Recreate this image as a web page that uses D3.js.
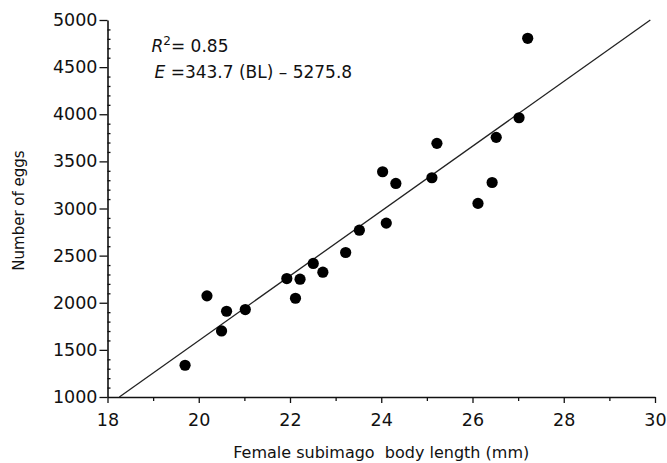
<!DOCTYPE html>
<html>
<head>
<meta charset="utf-8">
<script src="https://cdn.jsdelivr.net/npm/d3@7"></script>
<style>
  body { margin: 0; background: #fff; }
  svg text { font-family: "DejaVu Sans", sans-serif; fill: #111; }
</style>
</head>
<body>
<div id="chart"></div>
<script>
// body length (mm) and egg counts
const bodyLength = [19.7, 20.18, 20.5, 20.61, 21.02, 21.93, 22.12, 22.22, 22.51, 22.72, 23.22,
                    23.52, 24.03, 24.11, 24.32, 25.11, 25.22, 26.12, 26.43, 26.52, 27.02, 27.21];
const eggs = [1337, 2073, 1701, 1910, 1928, 2257, 2048, 2250, 2417, 2324, 2533,
              2770, 3390, 2845, 3266, 3326, 3691, 3054, 3276, 3755, 3963, 4806];
const xTicks = [18, 20, 22, 24, 26, 28, 30];
const yTicks = [1000, 1500, 2000, 2500, 3000, 3500, 4000, 4500, 5000];
const slope = 343.7, intercept = -5275.8;

// set the dimensions and margins of the graph
const margin = { top: 20, right: 12, bottom: 66, left: 107.5 },
    width = 667 - margin.left - margin.right,
    height = 463 - margin.top - margin.bottom;

const x = d3.scaleLinear().domain([18, 30]).range([0, 547.5]);
const y = d3.scaleLinear().domain([1000, 5000]).range([height, 0]);

const svg = d3.select("#chart").append("svg")
    .attr("width", 667)
    .attr("height", 463)
    .append("g")
    .attr("transform", "translate(" + margin.left + "," + margin.top + ")");

// x axis: major ticks + minor ticks at odd values
svg.append("g")
    .attr("transform", "translate(0," + height + ")")
    .call(d3.axisBottom(x).tickValues(xTicks).tickSize(6).tickSizeOuter(0).tickPadding(11));
svg.append("g")
    .attr("transform", "translate(0," + height + ")")
    .call(d3.axisBottom(x).tickValues(d3.range(19, 30, 2)).tickSize(4).tickFormat(""))
    .select(".domain").remove();

// y axis: major ticks left, minor every 100
svg.append("g")
    .call(d3.axisLeft(y).tickValues(yTicks).tickFormat(d3.format("d")).tickSize(8).tickSizeOuter(0).tickPadding(2));
svg.append("g")
    .call(d3.axisRight(y).tickValues(d3.range(1100, 5000, 100).filter(v => v % 500 != 0)).tickSize(3).tickFormat(""))
    .select(".domain").remove();

svg.selectAll(".domain").attr("stroke", "#111").attr("stroke-width", 1.6);
svg.selectAll(".tick line").attr("stroke", "#111").attr("stroke-width", 1.3);
svg.selectAll(".tick text").style("font-size", "17.5px").attr("fill", "#111");

// regression line from E=1000 to E=5000
const lineEnds = [1000, 5000].map(e => ({ bl: (e - intercept) / slope, e: e }));
svg.append("path")
    .datum(lineEnds)
    .attr("fill", "none")
    .attr("stroke", "#222")
    .attr("stroke-width", 1.3)
    .attr("d", d3.line().x(d => x(d.bl)).y(d => y(d.e)));

// points
svg.selectAll("circle.pt")
    .data(bodyLength)
    .enter().append("circle")
    .attr("class", "pt")
    .attr("cx", d => x(d))
    .attr("cy", (d, i) => y(eggs[i]))
    .attr("r", 5.6)
    .attr("fill", "#000");

// annotation
const ann = svg.append("g").style("font-size", "17px");
const t1 = ann.append("text").attr("x", 44).attr("y", 32);
t1.append("tspan").style("font-style", "italic").text("R");
t1.append("tspan").attr("dy", -7).style("font-size", "12px").text("2");
t1.append("tspan").attr("dy", 7).text("= 0.85");
const t2 = ann.append("text").attr("x", 47).attr("y", 58);
t2.append("tspan").style("font-style", "italic").text("E");
t2.append("tspan").text(" =343.7 (BL) \u2013 5275.8");

// axis labels
svg.append("text")
    .attr("x", x(24))
    .attr("y", height + 61)
    .attr("text-anchor", "middle")
    .style("font-size", "16px")
    .text("Female subimago\u00a0 body length (mm)");

svg.append("text")
    .attr("transform", "translate(" + (-84) + "," + (y(3000) + 2) + ") rotate(-90)")
    .attr("text-anchor", "middle")
    .style("font-size", "15px")
    .text("Number of eggs");
</script>
</body>
</html>
